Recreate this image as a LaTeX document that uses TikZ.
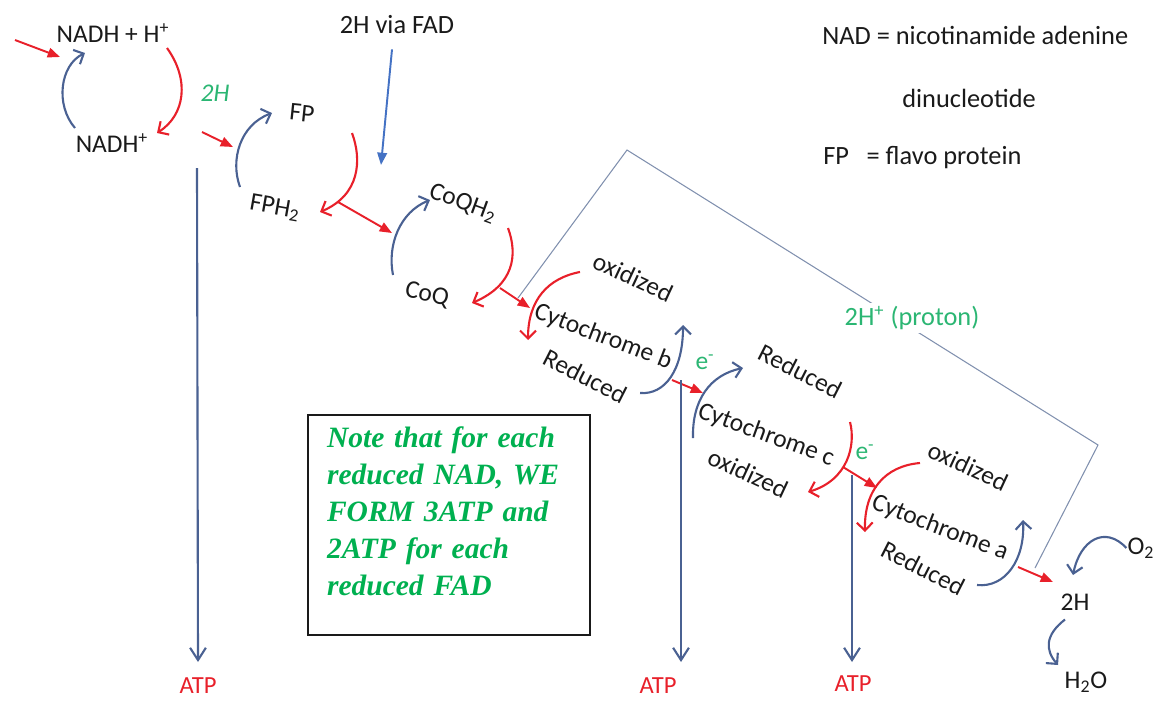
\documentclass[tikz,border=0pt]{standalone}
\usepackage{fontspec}
\setmainfont{Carlito}
\newfontfamily\notefont{Liberation Serif}
\usepackage{tikz}
\usetikzlibrary{arrows.meta}
\usepackage{xcolor}
\definecolor{cRed}{HTML}{E8202A}
\definecolor{cSlate}{HTML}{4A6192}
\definecolor{cFad}{HTML}{4472C4}
\definecolor{cWire}{HTML}{8090AE}
\definecolor{cMint}{HTML}{2BB673}
\definecolor{cNote}{HTML}{00B050}
\definecolor{cInk}{HTML}{1A1A1A}

\begin{document}
\begin{tikzpicture}[x=0.02cm, y=-0.02cm,
  lab/.style={font=\fontsize{14.5}{17}\selectfont, text=cInk, inner sep=0.5pt},
  tilt/.style={lab, rotate=#1},
  mint/.style={font=\fontsize{14.5}{17}\selectfont, text=cMint, inner sep=0.5pt},
  atp/.style={font=\fontsize{14}{17}\selectfont, text=cRed, inner sep=0.5pt},
  key/.style={font=\fontsize{15}{18}\selectfont, text=cInk, anchor=west, inner sep=0pt},
  curl/.style={-{Straight Barb[length=4.5pt, width=9pt]}, line width=1.2pt, #1},
  curl/.default=cSlate,
  push/.style={-{Triangle[length=7pt, width=5.5pt]}, line width=1.1pt, #1},
  push/.default=cRed,
  drop/.style={-{Straight Barb[length=7pt, width=9pt]}, line width=1.2pt, cSlate},
  notebox/.style={draw=cInk, line width=0.9pt, minimum width=5.64cm, minimum height=4.4cm,
                  text width=4.88cm, inner xsep=0.38cm, inner ysep=0pt, align=left, text=cNote,
                  font=\notefont\bfseries\itshape\fontsize{16.8}{21}\selectfont}]
  \useasboundingbox (0,0) rectangle (1158,700);
  % carriers, top left to bottom right
  \node[lab] (nadh) at (113,33) {NADH + H\textsuperscript{+}};
  \node[lab] (nadhp) at (112,143) {NADH\textsuperscript{+}};
  \node[mint, font=\fontsize{14.5}{17}\selectfont\itshape] (twoh) at (215,93) {2H};
  \node[tilt=-6] (fp) at (302,113) {FP};
  \node[tilt=-10] (fph) at (275,208) {FPH\textsubscript{2}};
  \node[lab, font=\fontsize{15}{18}\selectfont] (fad) at (397,25) {2H via FAD};
  \node[tilt=-20] (coqh) at (463,203) {CoQH\textsubscript{2}};
  \node[tilt=-12] (coq) at (427,295) {CoQ};
  \node[tilt=-25] (oxb) at (633,277) {oxidized};
  \node[tilt=-21] (cytb) at (603,337) {Cytochrome b};
  \node[tilt=-27] (redb) at (585,376) {Reduced};
  \node[mint] (eb) at (705,362) {e\textsuperscript{-}};
  \node[tilt=-27] (redc) at (800,371) {Reduced};
  \node[tilt=-20] (cytc) at (766,435) {Cytochrome c};
  \node[tilt=-25] (oxc) at (748,473) {oxidized};
  \node[mint] (ec) at (865,452) {e\textsuperscript{-}};
  \node[tilt=-25] (oxa) at (968,466) {oxidized};
  \node[tilt=-21] (cyta) at (940,528) {Cytochrome a};
  \node[tilt=-27] (reda) at (923,568) {Reduced};
  \node[lab] (otwo) at (1141,548) {O\textsubscript{2}};
  \node[lab] (twohw) at (1075,602) {2H};
  \node[lab] (water) at (1086,682) {H\textsubscript{2}O};
  % ATP outputs
  \node[atp] (atp1) at (198,686) {ATP};
  \node[atp] (atp2) at (658,686) {ATP};
  \node[atp] (atp3) at (853,684) {ATP};
  % key
  \node[key] (knad) at (822,35) {NAD = nicotinamide adenine};
  \node[key] (kdin) at (902,98) {dinucleotide};
  \node[key] (kfp) at (823,158) {FP\hspace{10pt}= flavo protein};
  % note
  \node[notebox] (note) at (449,525) {Note that for each\\ reduced NAD, WE\\ FORM 3ATP and\\ 2ATP for each\\ reduced FAD\\[-5pt]\mbox{}};
  % proton loop
  \coordinate (w1) at (518,298); \coordinate (w2) at (627,150);
  \coordinate (w3) at (1098,445); \coordinate (w4) at (1035,568);
  \draw[cWire, line width=0.6pt] (w1) -- (w2) -- (w3) -- (w4);
  \node[mint, font=\fontsize{15}{18}\selectfont, fill=white, inner sep=2pt] (proton) at (912,318) {2H\textsuperscript{+} (proton)};
  % red half-cycles (reduced carrier gives its H on)
  \coordinate (r1a) at (167,48);  \coordinate (r1b) at (157,133);
  \coordinate (r2a) at (352,133); \coordinate (r2b) at (320,212); \coordinate (r2j) at (338,202);
  \coordinate (r3a) at (508,228); \coordinate (r3b) at (472,303); \coordinate (r3j) at (500,288);
  \coordinate (r4a) at (580,272); \coordinate (r4b) at (528,340);
  \coordinate (r5a) at (850,422); \coordinate (r5b) at (808,492); \coordinate (r5j) at (843,467);
  \coordinate (r6a) at (920,463); \coordinate (r6b) at (865,532);
  \draw[curl=cRed] (r1a) .. controls (190,80) and (185,115) .. (r1b);
  \draw[curl=cRed] (r2a) .. controls (362,160) and (360,195) .. (r2b);
  \draw[curl=cRed] (r3a) .. controls (518,255) and (514,285) .. (r3b);
  \draw[curl=cRed] (r4a) .. controls (548,278) and (528,300) .. (r4b);
  \draw[curl=cRed] (r5a) .. controls (856,445) and (848,480) .. (r5b);
  \draw[curl=cRed] (r6a) .. controls (885,466) and (864,490) .. (r6b);
  % blue half-cycles (oxidized carrier picks up)
  \coordinate (b1a) at (75,128);   \coordinate (b1b) at (85,53);
  \coordinate (b2a) at (240,187);  \coordinate (b2b) at (272,113);
  \coordinate (b3a) at (393,275);  \coordinate (b3b) at (430,200);
  \coordinate (b4a) at (640,393);  \coordinate (b4b) at (683,325);
  \coordinate (b5a) at (693,438);  \coordinate (b5b) at (743,368);
  \coordinate (b6a) at (977,585);  \coordinate (b6b) at (1023,520);
  \draw[curl] (b1a) .. controls (55,105) and (60,65) .. (b1b);
  \draw[curl] (b2a) .. controls (230,160) and (240,125) .. (b2b);
  \draw[curl] (b3a) .. controls (387,245) and (400,212) .. (b3b);
  \draw[curl] (b4a) .. controls (665,395) and (683,370) .. (b4b);
  \draw[curl] (b5a) .. controls (692,400) and (710,375) .. (b5b);
  \draw[curl] (b6a) .. controls (1005,588) and (1025,560) .. (b6b);
  \draw[curl] (otwo.west) .. controls (1105,525) and (1080,540) .. (1073,575) coordinate (o2end);
  \draw[curl] (twohw.south) ++(-10,8) coordinate (hw) .. controls (1045,635) and (1045,650) .. (1058,665);
  % hand-overs
  \coordinate (p0) at (15,40);    \coordinate (p0e) at (60,57);
  \coordinate (p1) at (202,132);  \coordinate (p1e) at (233,147);
  \coordinate (p4) at (672,380);  \coordinate (p4e) at (703,393);
  \coordinate (p7) at (1018,567); \coordinate (p7e) at (1053,582);
  \draw[push] (p0) -- (p0e);
  \draw[push] (p1) -- (p1e);
  \draw[push] (r2j) -- (392,233);
  \draw[push] (r3j) -- (530,308);
  \draw[push] (p4) -- (p4e);
  \draw[push] (r5j) -- (877,488);
  \draw[push] (p7) -- (p7e);
  \draw[push=cFad] (fad.south) ++(-5,14) -- (381,165);
  % ATP drops
  \draw[drop] (197,168) -- (atp1.north |- 0,662);
  \draw[drop] (681,380) -- (681,662);
  \draw[drop] (852,475) -- (852,662);
\end{tikzpicture}
\end{document}
